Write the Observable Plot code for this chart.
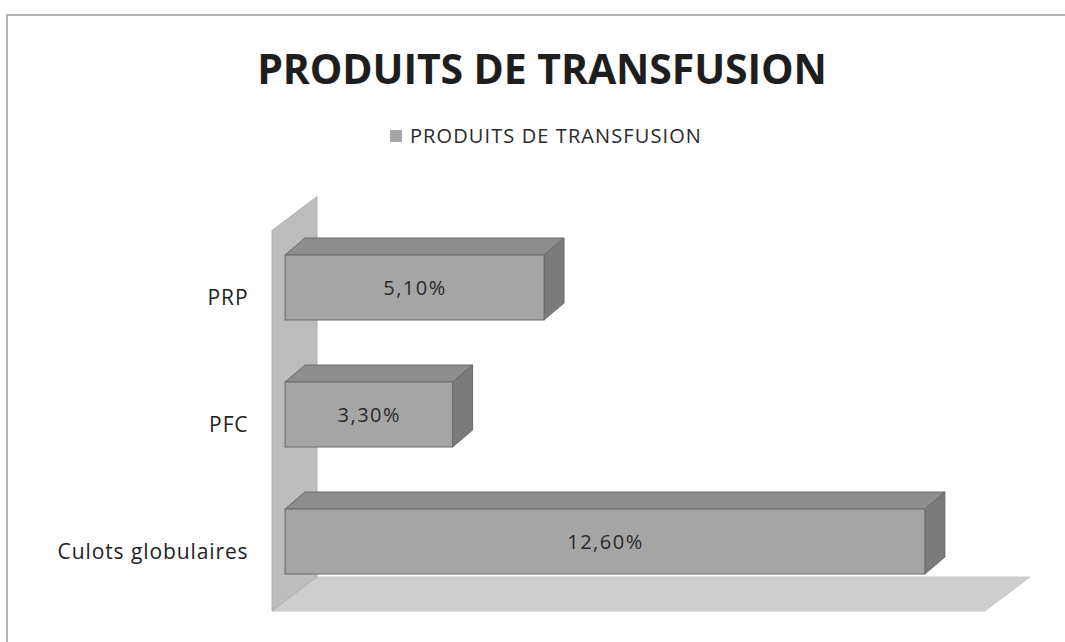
<!DOCTYPE html>
<html><head><meta charset="utf-8">
<script src="https://cdn.jsdelivr.net/npm/d3@7"></script>
<script src="https://cdn.jsdelivr.net/npm/@observablehq/plot@0.6"></script>
<style>
body{margin:0;width:1065px;height:642px;overflow:hidden;background:#fff;position:relative;font-family:"Open Sans",sans-serif}
#frame{position:absolute;left:6px;top:14px;width:1090px;height:680px;border:2px solid #b4b4b4;box-sizing:border-box}
#title{position:absolute;left:0;top:48px;width:1084px;text-align:center;font-weight:700;font-size:41px;line-height:41px;color:#1e1e1e;letter-spacing:-0.1px;white-space:nowrap}
#legwrap{position:absolute;left:0;top:119px;width:1092px;display:flex;justify-content:center}
#legwrap div{font-family:"Open Sans",sans-serif !important;font-size:20px !important;color:#2a2a2a;letter-spacing:1.1px;margin:0 !important}
#legwrap span{margin-right:0 !important}
#legwrap svg{margin-right:8px !important}
#chart{position:absolute;left:0;top:180px}
</style>
</head><body>
<div id="frame"></div>
<div id="title"></div>
<div id="legwrap"></div>
<div id="chart"></div>
<script>
const title = "PRODUITS DE TRANSFUSION";
const seriesName = "PRODUITS DE TRANSFUSION";
const categories = ["PRP", "PFC", "Culots globulaires"];
const values = [5.1, 3.3, 12.6];
const valueLabels = ["5,10%", "3,30%", "12,60%"];
const axisMax = 14;

const data = categories.map((c, i) => ({cat: c, v: values[i], label: valueLabels[i]}));

const cFront = "#a5a5a5", cTop = "#8e8e8e", cSide = "#7b7b7b", cEdge = "#6a6a6a";
const cWall = "#bdbdbd", cFloor = "#cecece";

document.getElementById("title").textContent = title;

const leg = Plot.legend({
  color: {type: "ordinal", domain: [seriesName], range: [cFront]},
  legend: "swatches",
  swatchSize: 12
});
document.getElementById("legwrap").appendChild(leg);

const ns = "http://www.w3.org/2000/svg";
function poly(pts, fill, stroke) {
  const p = document.createElementNS(ns, "polygon");
  p.setAttribute("points", pts.map(d => d.join(",")).join(" "));
  p.setAttribute("fill", fill);
  if (stroke) { p.setAttribute("stroke", stroke); p.setAttribute("stroke-width", "1"); p.setAttribute("stroke-linejoin", "round"); }
  return p;
}

// back wall and floor, placed from the scales
function wallFloor(index, scales) {
  const g = document.createElementNS(ns, "g");
  const x = scales.x, y = scales.y;
  const bw = y.bandwidth ? y.bandwidth() : 65;
  const dx = 45, dy = -34;
  const fx0 = x(0) - 13, fx1 = x(axisMax) - 11;
  const fyTop = y(categories[0]) - 24.5;
  const fyBot = y(categories[categories.length - 1]) + bw + 37;
  g.appendChild(poly([[fx0, fyBot], [fx0 + dx, fyBot + dy], [fx1 + dx, fyBot + dy], [fx1, fyBot]], cFloor, "#c6c6c6"));
  g.appendChild(poly([[fx0, fyTop], [fx0 + dx, fyTop + dy], [fx0 + dx, fyBot + dy], [fx0, fyBot]], cWall, "#b0b0b0"));
  return g;
}

// 3D top and side faces of each bar
function barDepth(index, scales) {
  const g = document.createElementNS(ns, "g");
  const x = scales.x, y = scales.y;
  const bw = y.bandwidth ? y.bandwidth() : 65;
  const dx = 20, dy = -17;
  for (const d of data) {
    const x0 = x(0), x1 = x(d.v), y0 = y(d.cat), y1 = y0 + bw;
    g.appendChild(poly([[x0, y0], [x1, y0], [x1 + dx, y0 + dy], [x0 + dx, y0 + dy]], cTop, cEdge));
    g.appendChild(poly([[x1, y0], [x1 + dx, y0 + dy], [x1 + dx, y1 + dy], [x1, y1]], cSide, cEdge));
  }
  return g;
}

const chart = Plot.plot({
  width: 1065,
  height: 462,
  marginLeft: 285,
  marginRight: 69,
  marginTop: 36,
  marginBottom: 30,
  style: {background: "transparent", fontFamily: "Open Sans, sans-serif", fontSize: "21px", overflow: "visible", color: "#222"},
  x: {domain: [0, axisMax], axis: null},
  y: {domain: categories, paddingInner: 0.49, paddingOuter: 0.3, label: null, tickSize: 0, tickPadding: 37},
  marks: [
    wallFloor,
    barDepth,
    Plot.barX(data, {y: "cat", x: "v", fill: cFront, stroke: cEdge, strokeWidth: 1}),
    Plot.text(data, {y: "cat", x: d => d.v / 2, text: "label", fontSize: 20, fill: "#2a2a2a", dy: 1})
  ]
});
chart.querySelectorAll("g[aria-label^='y-axis'] text").forEach(t => {
  t.setAttribute("letter-spacing", "0.9");
  t.setAttribute("dy", (parseFloat(t.getAttribute("dy")) || 0) + 0 + "");
  t.setAttribute("transform", (t.getAttribute("transform") || "") + " translate(0,10)");
});
chart.querySelectorAll("g[aria-label='text'] text").forEach(t => t.setAttribute("letter-spacing", "1.5"));
document.getElementById("chart").appendChild(chart);
</script>
</body></html>
